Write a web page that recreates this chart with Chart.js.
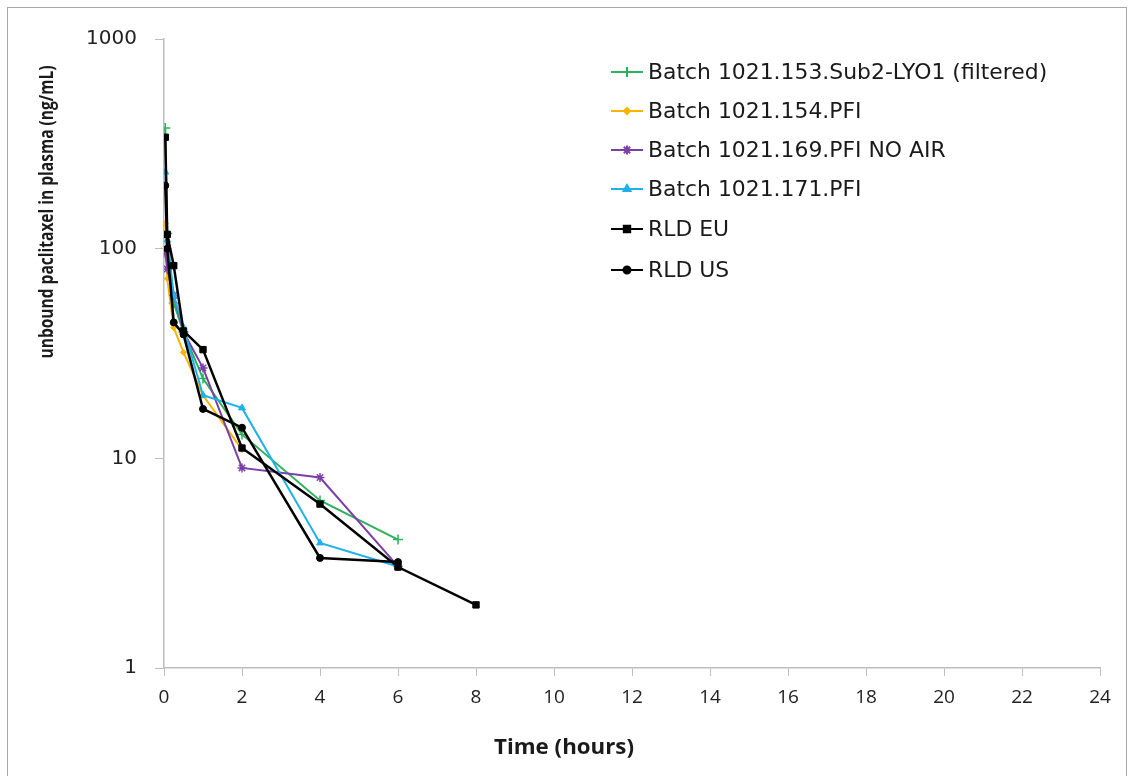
<!DOCTYPE html>
<html>
<head>
<meta charset="utf-8">
<script src="https://cdn.jsdelivr.net/npm/chart.js@4.4.1/dist/chart.umd.min.js"></script>
<style>
  html, body { margin: 0; padding: 0; background: #fff; overflow: hidden; }
  #wrap { position: relative; width: 1130px; height: 776px; }
  #frame { position: absolute; left: 7px; top: 7px; width: 1120px; height: 800px; border: 1px solid #a9a9a9; box-sizing: border-box; pointer-events: none; }
</style>
</head>
<body>
<div id="wrap">
  <canvas id="chart" width="1130" height="776"></canvas>
  <div id="frame"></div>
</div>
<script>
// Data (time in hours, concentration in ng/mL)
const seriesNames = [
    'Batch 1021.153.Sub2-LYO1 (filtered)',
    'Batch 1021.154.PFI',
    'Batch 1021.169.PFI NO AIR',
    'Batch 1021.171.PFI',
    'RLD EU',
    'RLD US'
];

const time153 = [0.033, 0.083, 0.25, 0.5, 1, 2, 4, 6];
const conc153 = [376, 118, 55, 40, 24, 13, 6.3, 4.1];

const time154 = [0.033, 0.083, 0.25, 0.5, 1, 2];
const conc154 = [132, 72, 42, 32, 20, 11];

const time169 = [0.033, 0.083, 0.25, 0.5, 1, 2, 4, 6];
const conc169 = [95, 80, 60, 40, 27, 9.0, 8.1, 3.05];

const time171 = [0.033, 0.083, 0.25, 0.5, 1, 2, 4, 6];
const conc171 = [232, 110, 60, 42, 20, 17.4, 3.95, 3.05];

const timeEU = [0.033, 0.083, 0.25, 0.5, 1, 2, 4, 6, 8];
const concEU = [340, 117, 83, 40.5, 33, 11.2, 6.05, 3.03, 2.0];

const timeUS = [0.033, 0.083, 0.25, 0.5, 1, 2, 4, 6];
const concUS = [200, 100, 44.5, 39, 17.2, 14, 3.35, 3.2];

const xTicks = [0, 2, 4, 6, 8, 10, 12, 14, 16, 18, 20, 22, 24];
const yTicks = [1, 10, 100, 1000];

function toPoints(ts, vs) {
    return ts.map((t, i) => ({ x: t, y: vs[i] }));
}

function makeSet(idx, ts, vs, color, style, radius, width, order) {
    return {
        label: seriesNames[idx],
        data: toPoints(ts, vs),
        borderColor: color,
        backgroundColor: color,
        borderWidth: width,
        pointStyle: style,
        pointRadius: radius,
        pointBorderWidth: style === 'cross' || style === 'star' ? 1.5 : 1,
        tension: 0,
        order: order
    };
}

const datasets = [
    makeSet(0, time153, conc153, '#2eb15c', 'cross', 5, 2, 6),
    makeSet(1, time154, conc154, '#f7b500', 'rectRot', 3, 2, 5),
    makeSet(2, time169, conc169, '#7a3fa8', 'star', 4.5, 2, 4),
    makeSet(3, time171, conc171, '#1fb1ea', 'triangle', 4, 2, 3),
    makeSet(4, timeEU, concEU, '#000000', 'rect', 4.5, 2.5, 2),
    makeSet(5, timeUS, concUS, '#000000', 'circle', 3.5, 2.5, 1)
];

// text squeezed to a given width, to mimic the narrow Excel font
function fitText(ctx, text, x, y, width) {
    const w = ctx.measureText(text).width;
    ctx.save();
    ctx.translate(x, y);
    ctx.scale(width / w, 1);
    ctx.fillText(text, 0, 0);
    ctx.restore();
}

// Legend inside the plot + axis titles
const extras = {
    id: 'extras',
    afterDraw(chart) {
        const ctx = chart.ctx;
        ctx.save();
        // legend
        const rows = [72, 111, 150, 189, 229, 270];
        datasets.forEach((ds, i) => {
            const y = rows[i];
            ctx.strokeStyle = ds.borderColor;
            ctx.lineWidth = 2;
            ctx.beginPath();
            ctx.moveTo(611, y);
            ctx.lineTo(643, y);
            ctx.stroke();
            Chart.helpers.drawPoint(ctx, {
                pointStyle: ds.pointStyle,
                radius: ds.pointRadius,
                borderWidth: ds.pointBorderWidth
            }, 627, y);
            ctx.fillStyle = ds.borderColor;
            ctx.fill();
            ctx.fillStyle = '#1a1a1a';
            ctx.font = '22px "DejaVu Sans", sans-serif';
            ctx.textBaseline = 'middle';
            ctx.textAlign = 'left';
            fitText(ctx, ds.label, 648, y + 1, ctx.measureText(ds.label).width * 0.995);
        });
        // x axis title
        ctx.fillStyle = '#1a1a1a';
        ctx.font = 'bold 21px "Open Sans", sans-serif';
        ctx.textAlign = 'center';
        ctx.textBaseline = 'middle';
        fitText(ctx, 'Time (hours)', 564, 748, 140);
        // y axis title
        ctx.translate(47, 212);
        ctx.rotate(-Math.PI / 2);
        ctx.font = 'bold 20px "Open Sans", sans-serif';
        fitText(ctx, 'unbound paclitaxel in plasma (ng/mL)', 0, 0, 293);
        ctx.restore();
    }
};

new Chart(document.getElementById('chart'), {
    type: 'line',
    data: { datasets },
    options: {
        responsive: false,
        animation: false,
        layout: { padding: { top: 39, right: 30, left: 0, bottom: 0 } },
        plugins: { legend: { display: false }, tooltip: { enabled: false } },
        scales: {
            x: {
                type: 'linear',
                min: 0,
                max: 24,
                afterBuildTicks: axis => { axis.ticks = xTicks.map(v => ({ value: v })); },
                afterFit: axis => { axis.height = 108; },
                border: { color: '#bdbdbd', width: 1.5 },
                grid: { drawOnChartArea: false, drawTicks: true, tickLength: 8, color: '#bdbdbd' },
                ticks: { color: '#222', font: { family: '"Open Sans", sans-serif', size: 19 }, padding: 10, maxRotation: 0 }
            },
            y: {
                type: 'logarithmic',
                min: 1,
                max: 1000,
                afterBuildTicks: axis => { axis.ticks = yTicks.map(v => ({ value: v })); },
                afterFit: axis => { axis.width = 164; },
                border: { color: '#bdbdbd', width: 1.5 },
                grid: { drawOnChartArea: false, drawTicks: true, tickLength: 9, color: '#bdbdbd' },
                ticks: { color: '#222', font: { family: '"DejaVu Sans", sans-serif', size: 20 }, padding: 18,
                    callback: v => String(v) }
            }
        }
    },
    plugins: [extras]
});
</script>
</body>
</html>
